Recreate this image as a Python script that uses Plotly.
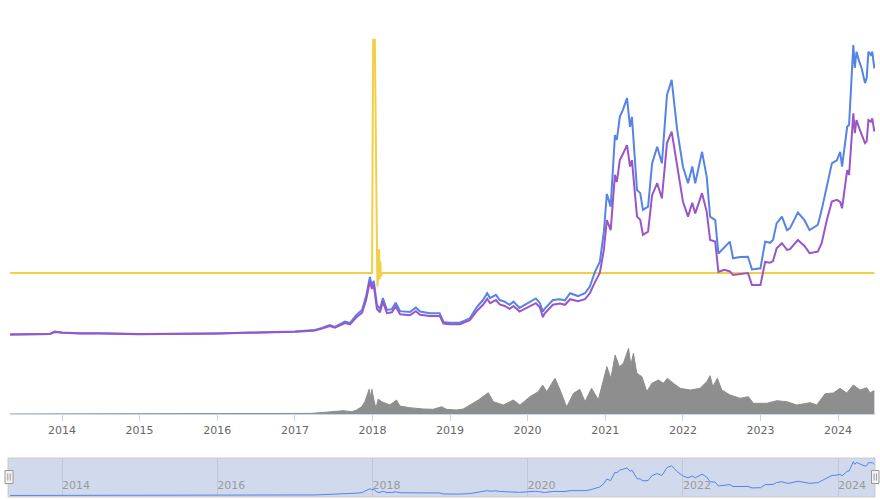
import plotly.graph_objects as go

# ---------------- data (values in thousands) ----------------
dates = ["2013-05-01","2013-08-03","2013-11-04","2013-11-28","2014-01-01","2014-03-26","2014-06-29","2015-01-01","2015-07-13","2016-01-01",
         "2016-06-03","2016-10-22","2017-01-01","2017-02-16","2017-04-05","2017-05-08","2017-06-14","2017-07-08","2017-08-24","2017-09-17",
         "2017-10-16","2017-11-13","2017-12-02","2017-12-20","2017-12-29","2018-01-07","2018-01-22","2018-02-05","2018-02-19","2018-03-10",
         "2018-04-02","2018-04-20","2018-05-11","2018-06-26","2018-07-24","2018-08-13","2018-09-28","2018-11-13","2018-12-01","2019-01-01",
         "2019-02-16","2019-04-04","2019-05-08","2019-06-05","2019-06-25","2019-07-08","2019-08-05","2019-08-23","2019-09-15","2019-10-08",
         "2019-10-27","2019-11-24","2020-01-12","2020-02-09","2020-02-28","2020-03-13","2020-03-20","2020-04-29","2020-06-01","2020-06-25",
         "2020-07-19","2020-08-25","2020-09-27","2020-10-20","2020-11-13","2020-12-06","2020-12-25","2021-01-08","2021-01-26","2021-02-15",
         "2021-02-24","2021-03-10","2021-03-24","2021-04-13","2021-04-27","2021-05-06","2021-05-30","2021-06-14","2021-06-27","2021-07-21",
         "2021-08-09","2021-09-02","2021-09-24","2021-10-18","2021-11-09","2021-12-05","2022-01-01","2022-01-25","2022-02-14","2022-02-28",
         "2022-04-01","2022-04-23","2022-05-09","2022-06-02","2022-06-17","2022-07-16","2022-08-10","2022-08-25","2022-09-26","2022-11-03",
         "2022-11-22","2023-01-01","2023-01-23","2023-02-15","2023-03-01","2023-03-18","2023-04-12","2023-05-06","2023-05-20","2023-06-26",
         "2023-07-27","2023-08-20","2023-09-28","2023-10-16","2023-11-09","2023-12-03","2023-12-27","2024-01-11","2024-01-20","2024-02-13",
         "2024-02-22","2024-03-02","2024-03-09","2024-03-13","2024-03-20","2024-03-28","2024-04-10","2024-04-21","2024-05-07","2024-05-15",
         "2024-05-23","2024-06-03","2024-06-10","2024-06-20"]

blue_values = [0.12,0.10,0.25,0.85,0.65,0.45,0.45,0.22,0.25,0.40,
               0.60,0.70,0.90,1.05,1.25,1.80,2.50,2.05,3.40,3.00,
               5.00,6.30,9.80,14.6,12.3,13.6,7.6,6.5,9.3,6.3,
               6.5,8.1,6.0,5.8,6.9,5.9,5.5,5.5,3.3,3.1,
               3.1,4.2,7.1,8.8,10.5,9.3,10.1,8.8,8.4,7.6,
               8.4,6.8,8.4,9.2,8.0,5.9,6.5,8.8,9.0,8.7,
               10.5,9.8,10.5,12.2,15.9,18.4,26.0,35.5,32.3,50.3,
               49.1,54.9,56.6,59.6,52.4,54.9,36.5,35.7,31.5,32.3,
               43.2,47.4,43.2,60.4,64.2,51.6,42.4,38.2,42.4,38.2,
               46.1,39.8,29.8,28.9,20.5,22.2,23.5,19.3,19.6,19.7,
               16.5,16.8,23.5,23.2,23.9,28.1,29.8,26.4,26.9,30.8,
               28.9,26.4,27.7,31.5,37.3,43.2,44.0,46.1,42.4,52.4,
               52.9,61.2,68.8,73.0,67.2,71.3,68.8,67.2,63.4,64.7,
               71.3,70.5,71.3,67.1]

purple_values = [0.10,0.08,0.22,0.75,0.58,0.40,0.40,0.20,0.22,0.36,
                 0.54,0.64,0.82,0.95,1.10,1.60,2.25,1.85,3.00,2.70,
                 4.40,5.60,8.80,13.6,11.6,12.6,6.5,5.7,8.4,5.5,
                 5.7,7.2,5.2,5.0,6.0,5.1,4.8,4.8,2.9,2.7,
                 2.7,3.7,6.1,7.6,9.1,8.0,8.8,7.7,7.3,6.6,
                 7.3,5.9,7.3,8.0,7.0,4.5,5.3,7.6,7.9,7.6,
                 9.0,8.5,9.0,10.5,13.3,15.6,21.5,28.9,26.4,40.3,
                 38.5,44.0,45.5,47.8,42.4,44.0,29.8,29.0,25.2,26.0,
                 35.2,38.2,34.4,48.3,51.2,42.4,33.6,29.8,33.3,30.6,
                 35.7,31.0,23.9,23.5,15.9,16.4,16.0,15.1,15.4,15.6,
                 12.6,12.6,18.4,18.2,18.6,21.8,23.1,21.4,21.6,23.9,
                 22.4,20.6,21.0,23.1,28.9,33.6,34.0,33.5,31.9,41.5,
                 40.3,47.8,54.6,55.8,50.8,54.1,52.0,50.3,48.3,48.8,
                 54.1,53.7,54.5,51.2]

yellow_dates = ["2013-05-01","2017-12-30","2018-01-04","2018-01-12","2018-01-24","2018-01-29","2018-02-01",
                "2018-02-04","2018-02-07","2018-02-10","2018-02-14","2024-06-20"]
yellow_values = [15.6,15.6,74.3,74.3,12.2,16.0,21.6,14.0,18.5,14.8,15.6,15.6]

vol_dates = ["2013-05-01","2017-01-01","2017-03-13","2017-04-29","2017-06-30","2017-08-16","2017-09-25","2017-10-18","2017-11-11","2017-11-26",
             "2017-12-07","2017-12-16","2017-12-23","2017-12-29","2018-01-08","2018-01-17","2018-01-28","2018-02-13","2018-03-24","2018-04-24",
             "2018-05-10","2018-06-26","2018-08-28","2018-10-14","2018-11-22","2018-12-15","2019-02-01","2019-03-04","2019-04-05","2019-05-14",
             "2019-06-30","2019-07-24","2019-09-09","2019-10-26","2019-11-26","2020-01-12","2020-02-20","2020-03-12","2020-03-31","2020-05-09",
             "2020-06-02","2020-07-03","2020-08-04","2020-09-03","2020-09-27","2020-10-28","2020-11-29","2020-12-14","2021-01-08","2021-01-27",
             "2021-02-16","2021-03-08","2021-03-27","2021-04-20","2021-05-01","2021-05-13","2021-05-29","2021-06-22","2021-07-15","2021-08-08",
             "2021-09-08","2021-10-01","2021-10-20","2021-11-17","2021-12-19","2022-02-04","2022-03-23","2022-04-23","2022-05-09","2022-05-22",
             "2022-06-12","2022-07-03","2022-08-11","2022-09-27","2022-11-05","2022-11-29","2023-01-31","2023-03-19","2023-05-05","2023-06-21",
             "2023-08-22","2023-09-23","2023-11-01","2023-12-10","2024-01-10","2024-02-11","2024-03-13","2024-04-14","2024-05-15","2024-05-31",
             "2024-06-16","2024-06-20"]
volume_values = [0.0,0.3,0.6,1.3,2.3,3.3,2.3,4.0,7.3,12.3,
                 19.0,24.7,17.3,24.7,14.0,5.7,15.0,12.3,9.0,14.0,
                 8.0,6.3,5.0,4.7,7.3,4.7,4.0,5.0,9.0,14.0,
                 21.3,12.3,9.0,14.0,9.0,17.3,22.3,29.0,22.3,35.7,
                 24.0,7.0,20.7,24.7,12.3,25.7,14.3,26.7,47.3,35.7,
                 59.0,47.3,50.7,65.7,49.0,60.7,40.7,37.3,22.3,30.7,
                 34.0,30.7,35.7,30.7,25.7,24.0,25.7,32.3,38.3,27.3,
                 35.7,24.0,19.0,15.7,17.3,10.7,10.7,13.3,12.3,9.0,
                 11.3,9.0,20.3,21.0,25.7,21.0,29.0,24.0,26.3,21.0,
                 23.3,22.0]

x_start, x_end = "2013-05-01", "2024-06-23"

# ---------------- styles ----------------
BLUE = "#5584e6"
PURPLE = "#9a55c8"
YELLOW = "#f2cf47"
GREY = "#8e8e8e"
FONT = "DejaVu Sans"

W, H = 880, 500
ML, MR = 10, 5
PW = W - ML - MR

def px_x(p):
    return (p - ML) / PW

def px_y(p):
    return 1 - p / H

fig = go.Figure()
fig.add_trace(go.Scatter(x=vol_dates, y=volume_values, xaxis="x", yaxis="y2", mode="lines",
                         line=dict(color=GREY, width=1), fill="tozeroy", fillcolor=GREY, hoverinfo="skip"))
fig.add_trace(go.Scatter(x=yellow_dates, y=yellow_values, mode="lines", line=dict(color=YELLOW, width=2)))
fig.add_trace(go.Scatter(x=dates, y=blue_values, mode="lines", line=dict(color=BLUE, width=2)))
fig.add_trace(go.Scatter(x=dates, y=purple_values, mode="lines", line=dict(color=PURPLE, width=2)))
fig.add_trace(go.Scatter(x=dates, y=blue_values, xaxis="x2", yaxis="y3", mode="lines",
                         line=dict(color=BLUE, width=1)))

shapes = [
    # navigator mask
    dict(type="rect", xref="paper", yref="paper", x0=px_x(8), x1=px_x(875), y0=px_y(497), y1=px_y(458),
         fillcolor="rgba(102,133,194,0.3)", line=dict(color="rgba(190,190,190,0.7)", width=1), layer="below"),
]
for (a, b) in [(5, 13), (871.5, 879)]:
    shapes.append(dict(type="rect", xref="paper", yref="paper", x0=px_x(a), x1=px_x(b),
                       y0=px_y(483.5), y1=px_y(470.5), fillcolor="#f2f2f2",
                       line=dict(color="#999999", width=1), layer="above"))
    m = (a + b) / 2
    for dx in (-1.2, 1.2):
        shapes.append(dict(type="line", xref="paper", yref="paper", x0=px_x(m + dx), x1=px_x(m + dx),
                           y0=px_y(480.5), y1=px_y(473.5), line=dict(color="#999999", width=1), layer="above"))

fig.update_layout(
    width=W, height=H, autosize=False,
    margin=dict(l=ML, r=MR, t=0, b=0),
    paper_bgcolor="white", plot_bgcolor="rgba(0,0,0,0)",
    showlegend=False,
    hovermode=False,
    font=dict(family=FONT, size=11, color="#666666"),
    xaxis=dict(domain=[0, 1], anchor="y2", type="date", range=[x_start, x_end],
               showgrid=False, zeroline=False, showline=True, linecolor="#ccd6eb", linewidth=1,
               ticks="outside", ticklen=6, tickcolor="#ccd6eb", dtick="M12", tick0="2014-01-01",
               tickformat="%Y", tickfont=dict(family=FONT, size=11, color="#666666")),
    yaxis=dict(domain=[px_y(340), px_y(38)], range=[-1.26, 74.75], visible=False, anchor="x"),
    yaxis2=dict(domain=[px_y(414), px_y(346)], range=[0, 68], visible=False, anchor="x"),
    xaxis2=dict(domain=[0, 1], anchor="y3", type="date", range=[x_start, x_end],
                showgrid=True, gridcolor="#c0c9db", gridwidth=1, zeroline=False, showline=False,
                ticks="", dtick="M24", tick0="2014-01-01", tickformat="%Y",
                ticklabelposition="inside right",
                tickfont=dict(family=FONT, size=11, color="#999999")),
    yaxis3=dict(domain=[px_y(497), px_y(458)], range=[-3.2, 81], visible=False, anchor="x2"),
    shapes=shapes,
)

fig.write_html("out.html", config={"displayModeBar": False})
